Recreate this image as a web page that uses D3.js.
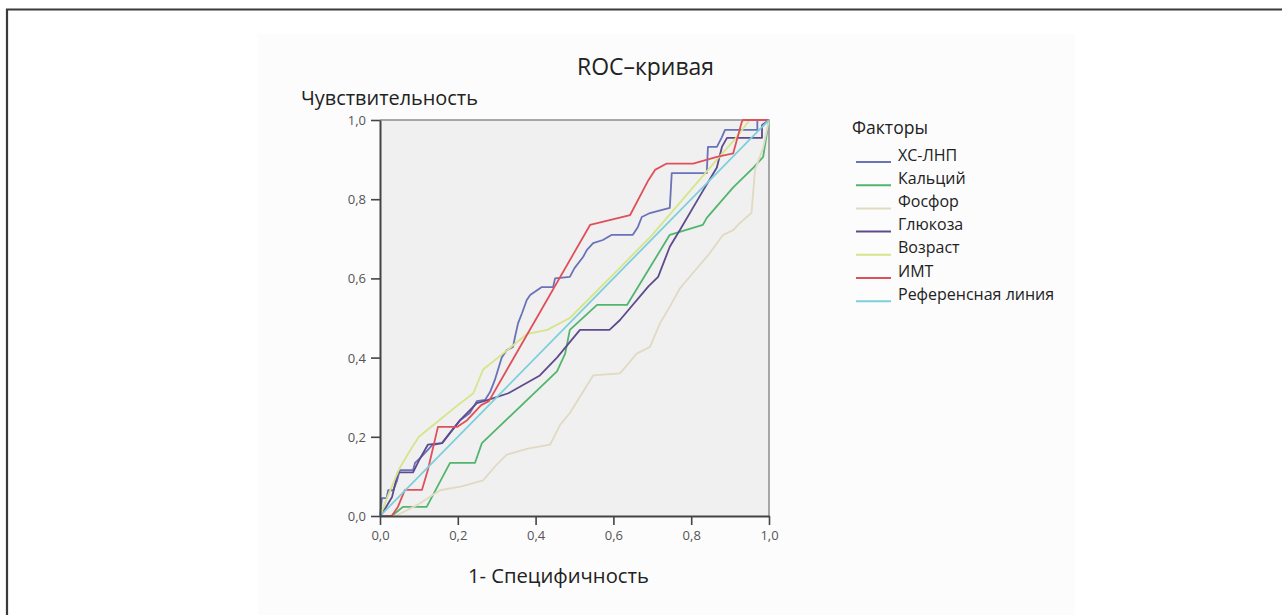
<!DOCTYPE html>
<html>
<head>
<meta charset="utf-8">
<script src="https://cdn.jsdelivr.net/npm/d3@7"></script>
<style>
  body { margin: 0; background: #fff; }
  svg { display: block; font-family: "Open Sans", "Noto Sans", sans-serif; }
</style>
</head>
<body>
<div id="chart"></div>
<script>
// series as [1 - specificity, sensitivity]
const factors = ['ХС-ЛНП', 'Кальций', 'Фосфор', 'Глюкоза', 'Возраст', 'ИМТ', 'Референсная линия'];
const factorColors = ['#6a72b8', '#52b56e', '#e0dac2', '#5e4a8e', '#d6e48a', '#e0505a', '#7ccfdc'];

const ldlPoints = [[0,0],[0.005,0.045],[0.017,0.045],[0.021,0.065],[0.034,0.065],[0.044,0.09],[0.051,0.116],
  [0.085,0.116],[0.09,0.134],[0.103,0.146],[0.123,0.167],[0.134,0.179],[0.159,0.184],[0.18,0.21],[0.206,0.242],
  [0.231,0.26],[0.249,0.29],[0.27,0.293],[0.283,0.313],[0.295,0.343],[0.313,0.4],[0.326,0.419],[0.342,0.427],
  [0.347,0.452],[0.355,0.487],[0.365,0.512],[0.377,0.545],[0.386,0.558],[0.416,0.578],[0.445,0.578],[0.45,0.6],
  [0.488,0.604],[0.5,0.626],[0.522,0.654],[0.532,0.672],[0.548,0.689],[0.573,0.697],[0.596,0.71],[0.65,0.71],
  [0.663,0.73],[0.673,0.755],[0.694,0.765],[0.745,0.778],[0.75,0.866],[0.84,0.866],[0.843,0.932],[0.866,0.932],
  [0.878,0.955],[0.887,0.975],[0.97,0.975],[0.97,1],[1,1]];
const calciumPoints = [[0,0],[0.03,0],[0.059,0.023],[0.12,0.023],[0.18,0.134],[0.244,0.134],[0.262,0.184],
  [0.455,0.365],[0.476,0.41],[0.488,0.47],[0.558,0.533],[0.635,0.533],[0.745,0.71],[0.83,0.735],[0.84,0.753],
  [0.908,0.83],[0.96,0.88],[0.985,0.907],[1,1]];
const phosphorusPoints = [[0,0],[0.04,0],[0.1,0.03],[0.154,0.065],[0.21,0.075],[0.265,0.09],[0.3,0.13],
  [0.326,0.155],[0.38,0.17],[0.437,0.18],[0.463,0.23],[0.488,0.26],[0.548,0.355],[0.617,0.36],[0.66,0.41],
  [0.694,0.427],[0.72,0.487],[0.74,0.52],[0.771,0.575],[0.81,0.62],[0.848,0.664],[0.882,0.71],[0.908,0.722],
  [0.925,0.74],[0.955,0.765],[0.964,0.874],[0.985,0.93],[1,1]];
const glucosePoints = [[0,0],[0.008,0.01],[0.031,0.048],[0.046,0.11],[0.085,0.11],[0.1,0.14],[0.123,0.18],
  [0.16,0.184],[0.18,0.21],[0.206,0.242],[0.249,0.285],[0.278,0.293],[0.33,0.31],[0.411,0.355],[0.455,0.4],
  [0.514,0.47],[0.59,0.47],[0.617,0.495],[0.69,0.58],[0.715,0.604],[0.745,0.68],[0.771,0.722],[0.827,0.816],
  [0.866,0.88],[0.879,0.932],[0.892,0.955],[0.982,0.955],[0.982,0.987],[1,1]];
const agePoints = [[0,0],[0.02,0.05],[0.05,0.12],[0.08,0.17],[0.1,0.2],[0.15,0.24],[0.2,0.28],[0.24,0.31],
  [0.265,0.37],[0.316,0.41],[0.378,0.46],[0.43,0.47],[0.488,0.5],[0.6,0.61],[0.7,0.71],[0.866,0.9],
  [0.92,0.96],[0.95,1],[1,1]];
const bmiPoints = [[0,0],[0.03,0],[0.046,0.023],[0.064,0.066],[0.108,0.066],[0.123,0.116],[0.149,0.225],
  [0.198,0.225],[0.224,0.242],[0.26,0.28],[0.28,0.29],[0.54,0.735],[0.643,0.76],[0.69,0.848],[0.707,0.874],
  [0.737,0.89],[0.805,0.89],[0.866,0.907],[0.908,0.916],[0.93,0.995],[0.933,1],[1,1]];
const referencePoints = [[0,0],[1,1]];

const tickValues = [0, 0.2, 0.4, 0.6, 0.8, 1.0];

const seriesPoints = [ldlPoints, calciumPoints, phosphorusPoints, glucosePoints, agePoints, bmiPoints, referencePoints];

const W = 1282, H = 615;
const plot = { left: 380, right: 769, top: 120, bottom: 516 };

const svg = d3.select('#chart').append('svg')
  .attr('width', W)
  .attr('height', H);

// scale a label's font so it spans the given width
function fitText(sel, width, base) {
  sel.style('font-size', base + 'px');
  const w = sel.node().getComputedTextLength();
  sel.style('font-size', (base * width / w).toFixed(2) + 'px');
  return sel;
}

// outer frame (top and left edges only are visible)
svg.append('rect')
  .attr('x', 258).attr('y', 34)
  .attr('width', 817).attr('height', H - 34)
  .attr('fill', '#fcfcfc');
svg.append('path')
  .attr('d', `M7,${H} V9.5 H${W}`)
  .attr('fill', 'none')
  .attr('stroke', '#3a3a3a')
  .attr('stroke-width', 2.2);

const x = d3.scaleLinear().domain([0, 1]).range([plot.left, plot.right]);
const y = d3.scaleLinear().domain([0, 1]).range([plot.bottom, plot.top]);
const fmt = d => d.toFixed(1).replace('.', ',');

svg.append('rect')
  .attr('x', plot.left).attr('y', plot.top)
  .attr('width', plot.right - plot.left)
  .attr('height', plot.bottom - plot.top)
  .attr('fill', '#f0f0f0');

// top & right border of the plot
svg.append('path')
  .attr('d', `M${plot.left},${plot.top} H${plot.right} V${plot.bottom}`)
  .attr('fill', 'none')
  .attr('stroke', '#8c8c8c')
  .attr('stroke-width', 1.5);

const lineGen = d3.line()
  .x(d => x(d[0]))
  .y(d => y(d[1]));

const curves = svg.append('g');
seriesPoints.forEach((pts, i) => {
  curves.append('path')
    .datum(pts)
    .attr('d', lineGen)
    .attr('fill', 'none')
    .attr('stroke', factorColors[i])
    .attr('stroke-width', 1.8)
    .attr('stroke-linejoin', 'round');
});

const xAxis = svg.append('g')
  .attr('transform', `translate(0,${plot.bottom})`)
  .call(d3.axisBottom(x).tickValues(tickValues).tickFormat(fmt).tickSize(9).tickPadding(6).tickSizeOuter(0));
const yAxis = svg.append('g')
  .attr('transform', `translate(${plot.left},0)`)
  .call(d3.axisLeft(y).tickValues(tickValues).tickFormat(fmt).tickSize(9).tickPadding(5).tickSizeOuter(0));

[xAxis, yAxis].forEach(ax => {
  ax.select('.domain').attr('stroke', '#444').attr('stroke-width', 2);
  ax.selectAll('.tick line').attr('stroke', '#444').attr('stroke-width', 1.6);
  ax.selectAll('.tick text')
    .attr('fill', '#555')
    .style('font-size', '13px')
    .style('font-family', '"Open Sans", sans-serif');
});
yAxis.selectAll('.tick text').attr('dy', '0.35em');

// titles
fitText(svg.append('text')
  .attr('x', 577).attr('y', 75)
  .attr('fill', '#222')
  .text('ROC–кривая'), 137, 18);

fitText(svg.append('text')
  .attr('x', 301).attr('y', 105)
  .attr('fill', '#222')
  .text('Чувствительность'), 177, 18);

fitText(svg.append('text')
  .attr('x', 468).attr('y', 583)
  .attr('fill', '#222')
  .text('1- Специфичность'), 181, 18);

// legend
const legend = svg.append('g').attr('transform', 'translate(852,0)');
fitText(legend.append('text')
  .attr('x', 0).attr('y', 134)
  .attr('fill', '#222')
  .text('Факторы'), 76, 15);

const legendSize = 16;
factors.forEach((name, i) => {
  const cy = 155 + i * 23.2;
  legend.append('line')
    .attr('x1', 4).attr('x2', 39)
    .attr('y1', cy + 7).attr('y2', cy + 7)
    .attr('stroke', factorColors[i])
    .attr('stroke-width', 2);
  legend.append('text')
    .attr('x', 46).attr('y', cy + 5.5)
    .style('font-size', legendSize + 'px')
    .attr('fill', '#222')
    .text(name);
});
</script>
</body>
</html>
